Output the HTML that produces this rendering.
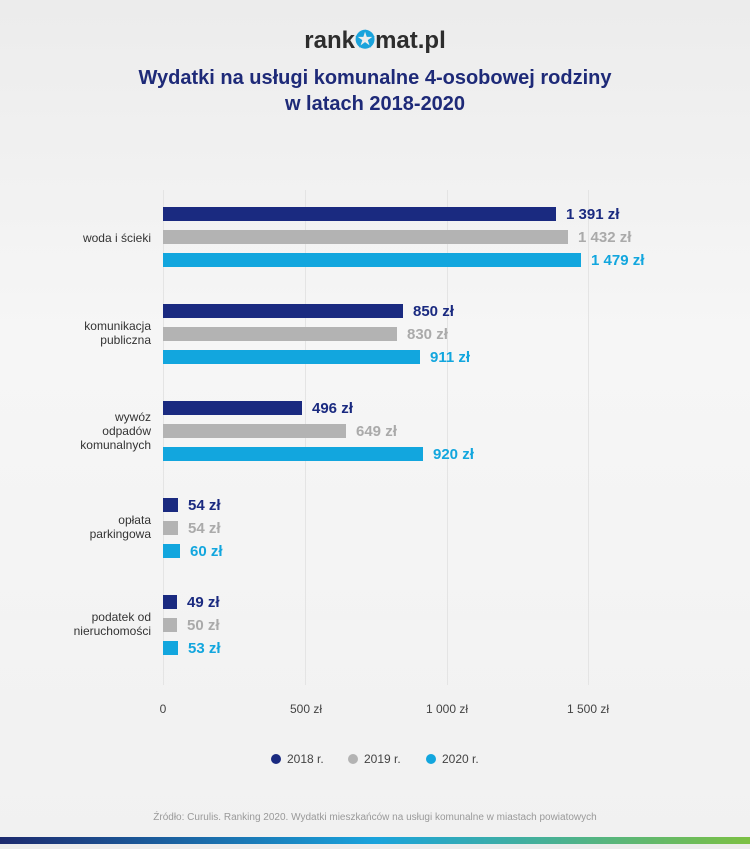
<!DOCTYPE html>
<html><head><meta charset="utf-8"><style>
body{margin:0;width:750px;height:844px;overflow:hidden;background:linear-gradient(#ececec,#f6f6f6 40%,#f1f1f1);font-family:"Liberation Sans",sans-serif}
</style></head><body>
<svg width="750" height="844" xmlns="http://www.w3.org/2000/svg" font-family="Liberation Sans, sans-serif">
<defs><linearGradient id="g" x1="0" x2="1"><stop offset="0" stop-color="#1c2a6e"/><stop offset="0.5" stop-color="#1aa3dc"/><stop offset="1" stop-color="#7cc043"/></linearGradient></defs>
<text x="375" y="48" text-anchor="middle" font-size="24" font-weight="bold" fill="#2d2d2d">rank<tspan fill="#1aa3dc">✪</tspan>mat.pl</text>
<text x="375" y="84" text-anchor="middle" font-size="20" font-weight="bold" fill="#1e2a78">Wydatki na usługi komunalne 4-osobowej rodziny</text>
<text x="375" y="110" text-anchor="middle" font-size="20" font-weight="bold" fill="#1e2a78">w latach 2018-2020</text>
<g stroke="#e4e4e4" stroke-width="1">
<line x1="163.5" y1="190" x2="163.5" y2="685"/><line x1="305.5" y1="190" x2="305.5" y2="685"/><line x1="447.5" y1="190" x2="447.5" y2="685"/><line x1="588.5" y1="190" x2="588.5" y2="685"/></g>
<g font-size="12" fill="#444" text-anchor="middle">
<text x="163" y="713">0</text><text x="306" y="713">500 zł</text><text x="447" y="713">1 000 zł</text><text x="588" y="713">1 500 zł</text></g>
<g font-size="12" fill="#333" text-anchor="end">
<text x="151" y="242">woda i ścieki</text>
<text x="151" y="330">komunikacja</text><text x="151" y="344">publiczna</text>
<text x="151" y="421">wywóz</text><text x="151" y="435">odpadów</text><text x="151" y="449">komunalnych</text>
<text x="151" y="524">opłata</text><text x="151" y="538">parkingowa</text>
<text x="151" y="621">podatek od</text><text x="151" y="635">nieruchomości</text></g>
<g font-size="15" font-weight="bold">
<rect x="163" y="207" width="393" height="14" fill="#1a2a80"/><text x="566" y="219" fill="#1a2a80">1 391 zł</text>
<rect x="163" y="230" width="405" height="14" fill="#b3b3b3"/><text x="578" y="242" fill="#aaa">1 432 zł</text>
<rect x="163" y="253" width="418" height="14" fill="#12a6de"/><text x="591" y="265" fill="#12a6de">1 479 zł</text>
<rect x="163" y="304" width="240" height="14" fill="#1a2a80"/><text x="413" y="316" fill="#1a2a80">850 zł</text>
<rect x="163" y="327" width="234" height="14" fill="#b3b3b3"/><text x="407" y="339" fill="#aaa">830 zł</text>
<rect x="163" y="350" width="257" height="14" fill="#12a6de"/><text x="430" y="362" fill="#12a6de">911 zł</text>
<rect x="163" y="401" width="139" height="14" fill="#1a2a80"/><text x="312" y="413" fill="#1a2a80">496 zł</text>
<rect x="163" y="424" width="183" height="14" fill="#b3b3b3"/><text x="356" y="436" fill="#aaa">649 zł</text>
<rect x="163" y="447" width="260" height="14" fill="#12a6de"/><text x="433" y="459" fill="#12a6de">920 zł</text>
<rect x="163" y="498" width="15" height="14" fill="#1a2a80"/><text x="188" y="510" fill="#1a2a80">54 zł</text>
<rect x="163" y="521" width="15" height="14" fill="#b3b3b3"/><text x="188" y="533" fill="#aaa">54 zł</text>
<rect x="163" y="544" width="17" height="14" fill="#12a6de"/><text x="190" y="556" fill="#12a6de">60 zł</text>
<rect x="163" y="595" width="14" height="14" fill="#1a2a80"/><text x="187" y="607" fill="#1a2a80">49 zł</text>
<rect x="163" y="618" width="14" height="14" fill="#b3b3b3"/><text x="187" y="630" fill="#aaa">50 zł</text>
<rect x="163" y="641" width="15" height="14" fill="#12a6de"/><text x="188" y="653" fill="#12a6de">53 zł</text></g>
<g font-size="12" fill="#444">
<circle cx="276" cy="759" r="5" fill="#1a2a80"/><text x="287" y="763">2018 r.</text>
<circle cx="353" cy="759" r="5" fill="#b3b3b3"/><text x="364" y="763">2019 r.</text>
<circle cx="431" cy="759" r="5" fill="#12a6de"/><text x="442" y="763">2020 r.</text></g>
<text x="375" y="820" text-anchor="middle" font-size="10" fill="#999">Źródło: Curulis. Ranking 2020. Wydatki mieszkańców na usługi komunalne w miastach powiatowych</text>
<rect x="0" y="837" width="750" height="7" fill="url(#g)"/>
</svg></body></html>
